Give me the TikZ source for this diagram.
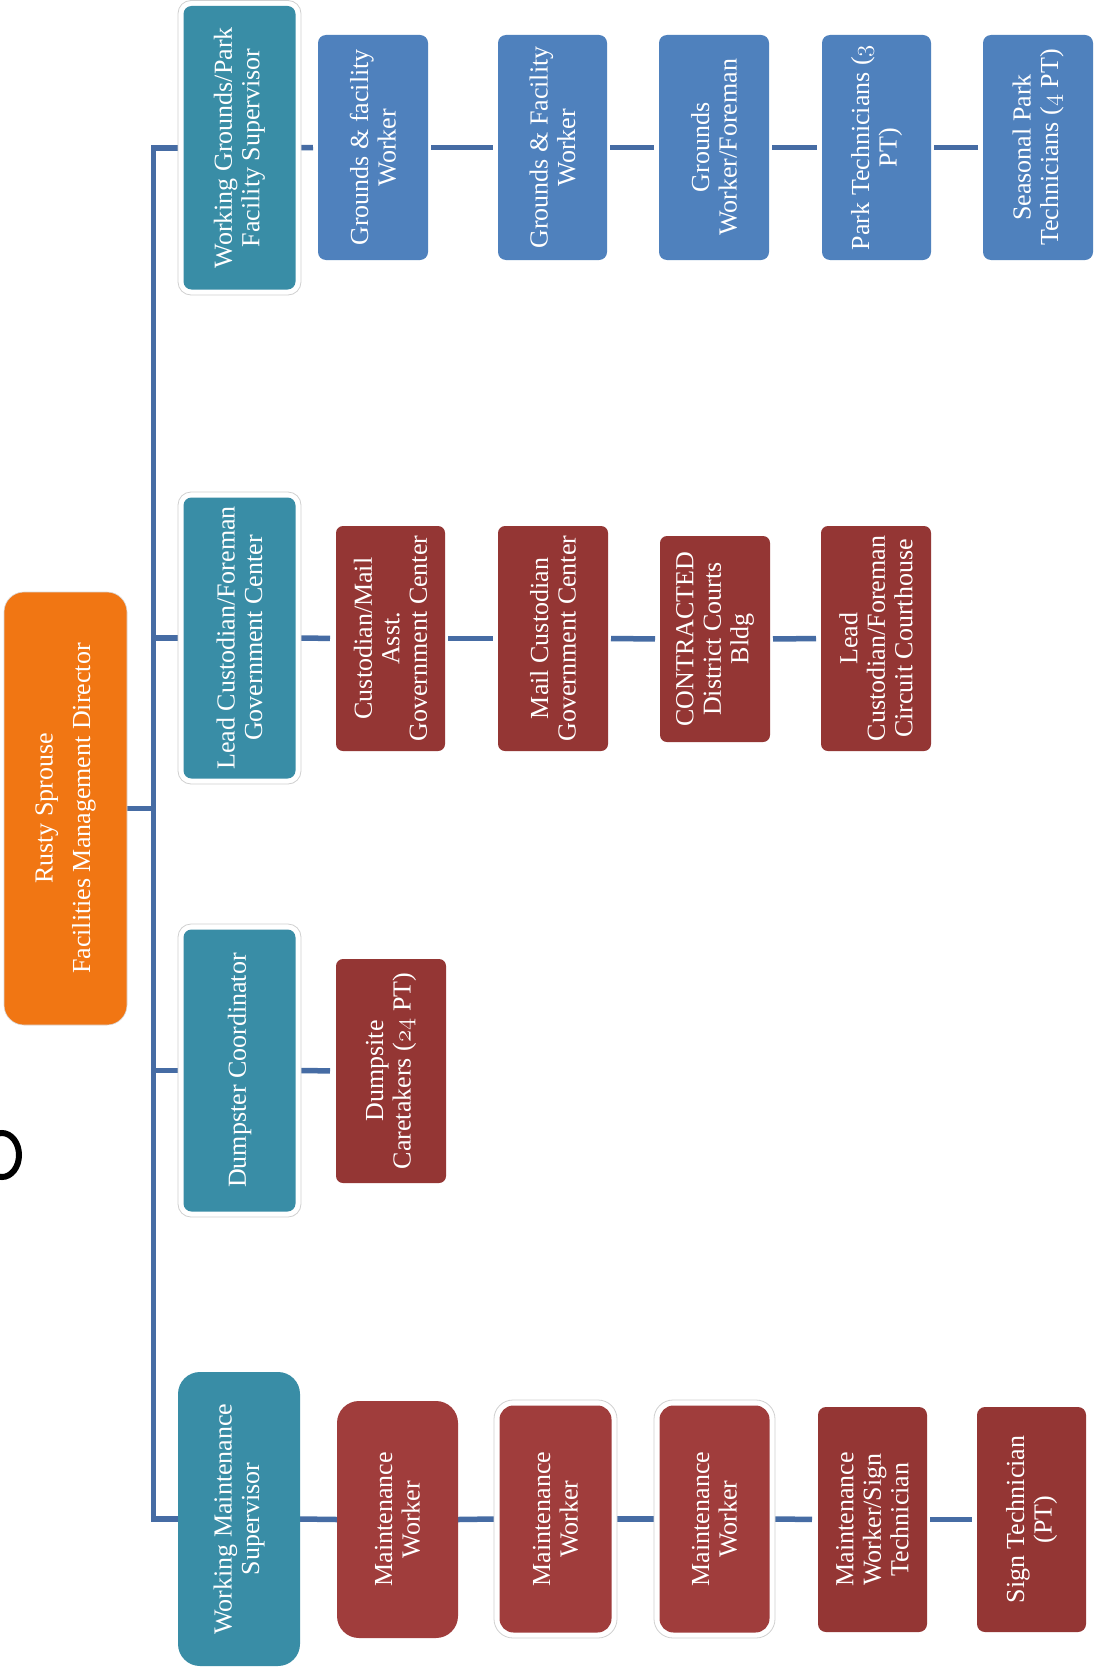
\documentclass[tikz,border=0pt]{standalone}
\usepackage{fontspec}
\setmainfont{Liberation Serif}
\usetikzlibrary{backgrounds}

\definecolor{dirorange}{RGB}{241,118,19}
\definecolor{supteal}{RGB}{57,141,166}
\definecolor{grblue}{RGB}{79,129,189}
\definecolor{darkred}{RGB}{148,54,52}
\definecolor{maintred}{RGB}{160,61,60}
\definecolor{linkblue}{RGB}{70,108,164}
\definecolor{framegray}{RGB}{208,208,208}

% old-style figures taken from the math italic font
\newcommand\osn[1]{{\usefont{OML}{cmm}{m}{it}#1}}

\tikzset{
  box/.style={inner sep=0pt, outer sep=0pt},
  frame/.style={box, fill=white, draw=framegray, line width=0.8pt},
  lbl/.style={text=white, rotate=90, align=center, inner sep=0pt,
    font=\fontsize{26}{27.5}\selectfont},
  conn/.style={draw=linkblue, line width=5.5pt},
  rowlink/.style={conn, shorten <=3pt, shorten >=5pt},
}

% plain box: name, fill, x1, y1, x2, y2, corner radius, text
\newcommand\orgbox[8]{%
  \node[box, fill=#2, rounded corners=#7, minimum width={#5-#3},
        minimum height={#6-#4}] (#1) at ({(#3+#5)/2},{(#4+#6)/2}) {};
  \node[lbl] (#1-t) at (#1.center) {#8};
}
% box inside a white frame: name, fill, outer x1, y1, x2, y2, inner radius, text
\newcommand\framedbox[8]{%
  \node[frame, rounded corners=#7+5pt, minimum width={#5-#3},
        minimum height={#6-#4}] (#1) at ({(#3+#5)/2},{(#4+#6)/2}) {};
  \node[box, fill=#2, rounded corners=#7, minimum width={#5-#3-11},
        minimum height={#6-#4-11}] (#1-in) at (#1.center) {};
  \node[lbl] (#1-t) at (#1.center) {#8};
}

\begin{document}
\begin{tikzpicture}[x=1pt, y=-1pt]
  \useasboundingbox (0,0) rectangle (1100,1667);

  % stray glyph fragment at the left edge
  \begin{scope}
    \clip (0,0) rectangle (1100,1667);
    \draw[line width=6pt] (2,1155) ellipse [x radius=17, y radius=22];
  \end{scope}

  % director
  \node[box, fill=dirorange, draw=black!15, line width=0.6pt, rounded corners=20pt,
        minimum width=123, minimum height=433] (dir) at (65.5,808.5) {};
  \node[lbl] (dir-t) at (dir.center)
    {Rusty Sprouse\\[10pt]Facilities Management Director};

  % supervisors
  \framedbox{s1}{supteal}{178}{0.5}{301}{295}{8pt}{Working Grounds/Park\\Facility Supervisor}
  \framedbox{s2}{supteal}{178}{492}{301}{784}{8pt}{Lead Custodian/Foreman\\Government Center}
  \framedbox{s3}{supteal}{178}{924}{301}{1217}{8pt}{Dumpster Coordinator}
  \orgbox{s4}{supteal}{178}{1372}{300}{1666}{22pt}{Working Maintenance\\Supervisor}

  % grounds and parks
  \orgbox{b1}{grblue}{318}{35}{428}{260}{8pt}{Grounds \& facility\\Worker}
  \orgbox{b2}{grblue}{498}{35}{607}{260}{8pt}{Grounds \& Facility\\Worker}
  \orgbox{b3}{grblue}{659}{35}{769}{260}{8pt}{Grounds\\Worker/Foreman}
  \orgbox{b4}{grblue}{822}{35}{931}{260}{8pt}{Park Technicians (\osn{3}\\PT)}
  \orgbox{b5}{grblue}{983}{35}{1093}{260}{8pt}{Seasonal Park\\Technicians (\osn{4} PT)}

  % custodial
  \orgbox{r1}{darkred}{336}{526}{445}{751}{7pt}{Custodian/Mail\\Asst.\\Government Center}
  \orgbox{r2}{darkred}{498}{526}{608}{751}{7pt}{Mail Custodian\\Government Center}
  \orgbox{r3}{darkred}{660}{536}{770}{742}{7pt}{CONTRACTED\\District Courts\\Bldg}
  \orgbox{r4}{darkred}{821}{526}{931}{751}{7pt}{Lead\\Custodian/Foreman\\Circuit Courthouse}

  % dumpsites
  \orgbox{d1}{darkred}{336}{959}{446}{1183}{7pt}{Dumpsite\\Caretakers (\osn{24} PT)}

  % maintenance
  \orgbox{m1}{maintred}{337}{1401}{458}{1638}{22pt}{Maintenance\\Worker}
  \framedbox{m2}{maintred}{494}{1400}{617}{1638}{14pt}{Maintenance\\Worker}
  \framedbox{m3}{maintred}{654}{1400}{775}{1638}{14pt}{Maintenance\\Worker}
  \orgbox{m4}{darkred}{818}{1407}{927}{1632}{8pt}{Maintenance\\Worker/Sign\\Technician}
  \orgbox{m5}{darkred}{977}{1407}{1086}{1632}{8pt}{Sign Technician\\(PT)}

  \begin{pgfonlayer}{background}
    \fill[white] (0,0) rectangle (1100,1667);
    \coordinate (hub) at (153.5,808.5);
    \draw[conn] (dir.east) -- (hub);
    \draw[conn, line join=miter] (s1.west) -- (hub |- s1.west)
      -- (hub |- s4.west) -- (s4.west);
    \draw[conn] (hub |- s2.west) -- (s2.west);
    \draw[conn] (hub |- s3.west) -- (s3.west);

    \draw[conn, shorten >=5pt] (s1.east) -- (b1.west);
    \draw[rowlink] (b1.east) -- (b2.west);
    \draw[rowlink] (b2.east) -- (b3.west);
    \draw[rowlink] (b3.east) -- (b4.west);
    \draw[rowlink] (b4.east) -- (b5.west);

    \draw[conn, shorten >=6pt] (s2.east) -- (r1.west);
    \draw[rowlink] (r1.east) -- (r2.west);
    \draw[rowlink] (r2.east) -- (r3.west);
    \draw[rowlink] (r3.east) -- (r4.west);

    \draw[conn, shorten >=6pt] (s3.east) -- (d1.west);

    \draw[conn] (s4.east) -- (m1.west);
    \draw[conn] (m1.east) -- (m2.west);
    \draw[conn] (m2.east) -- (m3.west);
    \draw[conn, shorten >=6pt] (m3.east) -- (m4.west);
    \draw[rowlink] (m4.east) -- (m5.west);
  \end{pgfonlayer}
\end{tikzpicture}
\end{document}
